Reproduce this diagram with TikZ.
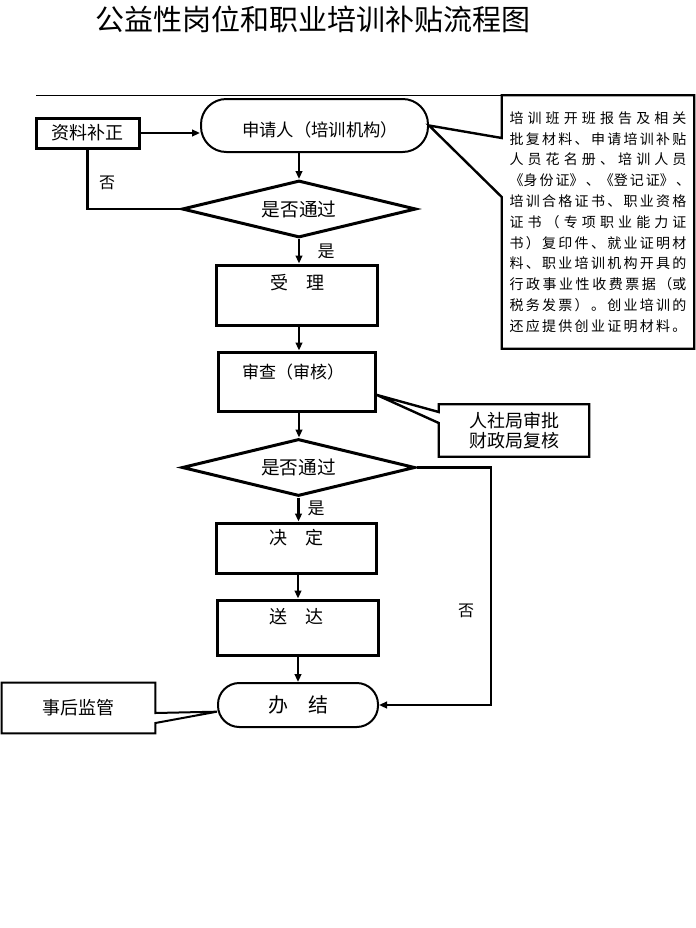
\documentclass[tikz,border=0pt]{standalone}
\usepackage{fontspec}
\setmainfont{Noto Sans CJK SC}
\usetikzlibrary{arrows.meta,shapes.geometric,calc}
\begin{document}
\begin{tikzpicture}[x=0.75pt,y=-0.75pt,
  every node/.style={inner sep=0pt},
  rbox/.style={draw, rectangle, line width=2.25pt},
  pill/.style={draw, rectangle, line width=1.5pt, rounded corners=#1},
  dia/.style={draw, diamond, aspect=4, line width=2.25pt},
  con/.style={line width=1.6pt},
  arr/.style={con, -{Triangle[length=6pt,width=5pt]}},
  callout/.style={draw, line width=1.8pt, line join=miter},
  fs/.style={font=\fontsize{#1}{#1}\selectfont}]
\useasboundingbox (0,0) rectangle (696,928);

% title and rule
\node[fs=21.75pt] (title) at (313,19) {公益性岗位和职业培训补贴流程图};
\coordinate (ruleL) at (36,95);
\coordinate (ruleR) at (590,95);
\draw[line width=0.75pt] (ruleL) -- (ruleR);

% main nodes
\node[rbox, minimum width=77.25pt, minimum height=22.5pt, fs=13.5pt] (fix) at (87.5,133) {资料补正};
\node[pill=19pt, minimum width=170.25pt, minimum height=39.75pt] (apply) at (314.5,125.5) {};
\node[fs=13pt] (applyT) at (320,130) {申请人（培训机构）};
\node[dia, minimum width=175.5pt, minimum height=42.75pt, fs=14pt] (d1) at (299,209) {是否通过};
\node[rbox, minimum width=120.75pt, minimum height=45pt] (accept) at (296.5,295) {};
\node[fs=13.5pt] (acceptT) at (297,283) {受　理};
\node[rbox, minimum width=117.75pt, minimum height=44.25pt] (review) at (296.5,381.5) {};
\node[fs=12.75pt] (reviewT) at (293,372) {审查（审核）};
\node[dia, minimum width=174.75pt, minimum height=42.75pt, fs=14pt] (d2) at (298.5,467.5) {是否通过};
\node[rbox, minimum width=120pt, minimum height=37.5pt] (decide) at (296,548) {};
\node[fs=13.5pt] (decideT) at (296,538) {决　定};
\node[rbox, minimum width=120.75pt, minimum height=41.25pt] (deliver) at (297.5,627.5) {};
\node[fs=13.5pt] (deliverT) at (296,617) {送　达};
\node[pill=16pt, minimum width=120pt, minimum height=33pt, fs=15pt] (finish) at (298,705) {办　结};

% callouts
\node[minimum width=144pt, minimum height=189.75pt,
      font=\fontsize{10.5pt}{15.6pt}\selectfont, align=center] (docs) at (598,222) {%
\makebox[132.75pt][s]{培 训 班 开 班 报 告 及 相 关}\\
\makebox[132.75pt][s]{批 复 材 料 、 申 请 培 训 补 贴}\\
\makebox[132.75pt][s]{人 员 花 名 册 、 培 训 人 员}\\
\makebox[132.75pt][s]{《身 份 证》 、《登 记 证》 、}\\
\makebox[132.75pt][s]{培 训 合 格 证 书 、 职 业 资 格}\\
\makebox[132.75pt][s]{证 书 （ 专 项 职 业 能 力 证}\\
\makebox[132.75pt][s]{书 ） 复 印 件 、 就 业 证 明 材}\\
\makebox[132.75pt][s]{料 、 职 业 培 训 机 构 开 具 的}\\
\makebox[132.75pt][s]{行 政 事 业 性 收 费 票 据 （或}\\
\makebox[132.75pt][s]{税 务 发 票 ） 。 创 业 培 训 的}\\
\makebox[132.75pt][s]{还 应 提 供 创 业 证 明 材 料 。}};
\draw[callout] (docs.north west) -- (docs.north east) -- (docs.south east)
  -- (docs.south west) -- (docs.south west |- 0,197) -- (apply.east)
  -- (docs.north west |- 0,138) -- cycle;

\node[minimum width=112.5pt, minimum height=39pt, align=center,
      font=\fontsize{13.5pt}{15pt}\selectfont] (auth) at (514,430.5) {人社局审批\\财政局复核};
\coordinate (authTip) at ([yshift=-10pt]review.east);
\draw[callout] (auth.north west) -- (auth.north east) -- (auth.south east)
  -- (auth.south west) -- (auth.south west |- 0,423) -- (authTip)
  -- (auth.north west |- 0,412) -- cycle;

\node[minimum width=115pt, minimum height=37.5pt, fs=13.5pt] (super) at (78.5,708) {事后监管};
\coordinate (superTip) at ([yshift=-5pt]finish.west);
\draw[callout, line width=1.5pt] (super.north west) -- (super.north east) -- (super.north east |- 0,713)
  -- (superTip) -- (super.south east |- 0,723) -- (super.south east)
  -- (super.south west) -- cycle;

% connectors
\draw[arr] (fix.east) -- (fix.east -| apply.west);
\draw[arr] (apply.south -| d1.north) -- (d1.north);
\draw[con] (fix.south) -- (fix.south |- d1.west) -- (d1.west);
\node[fs=12pt] (no1) at (107,183) {否};
\draw[arr] (d1.south) -- (d1.south |- accept.north);
\node[fs=12.75pt] (yes1) at (326,251) {是};
\draw[arr] (accept.south -| d1.south) -- (review.north -| d1.south);
\draw[arr] (review.south -| d1.south) -- (d2.north -| d1.south);
\draw[arr] (d2.south) -- (d2.south |- decide.north);
\node[fs=12.75pt] (yes2) at (316,508) {是};
\draw[arr] (decide.south -| finish.north) -- (deliver.north -| finish.north);
\draw[arr] (deliver.south -| finish.north) -- (finish.north);
\coordinate (noX) at (491,600);
\draw[arr] (d2.east) -- (d2.east -| noX) -- (noX |- finish.east) -- (finish.east);
\node[fs=12pt] (no2) at (466,611) {否};
\end{tikzpicture}
\end{document}
